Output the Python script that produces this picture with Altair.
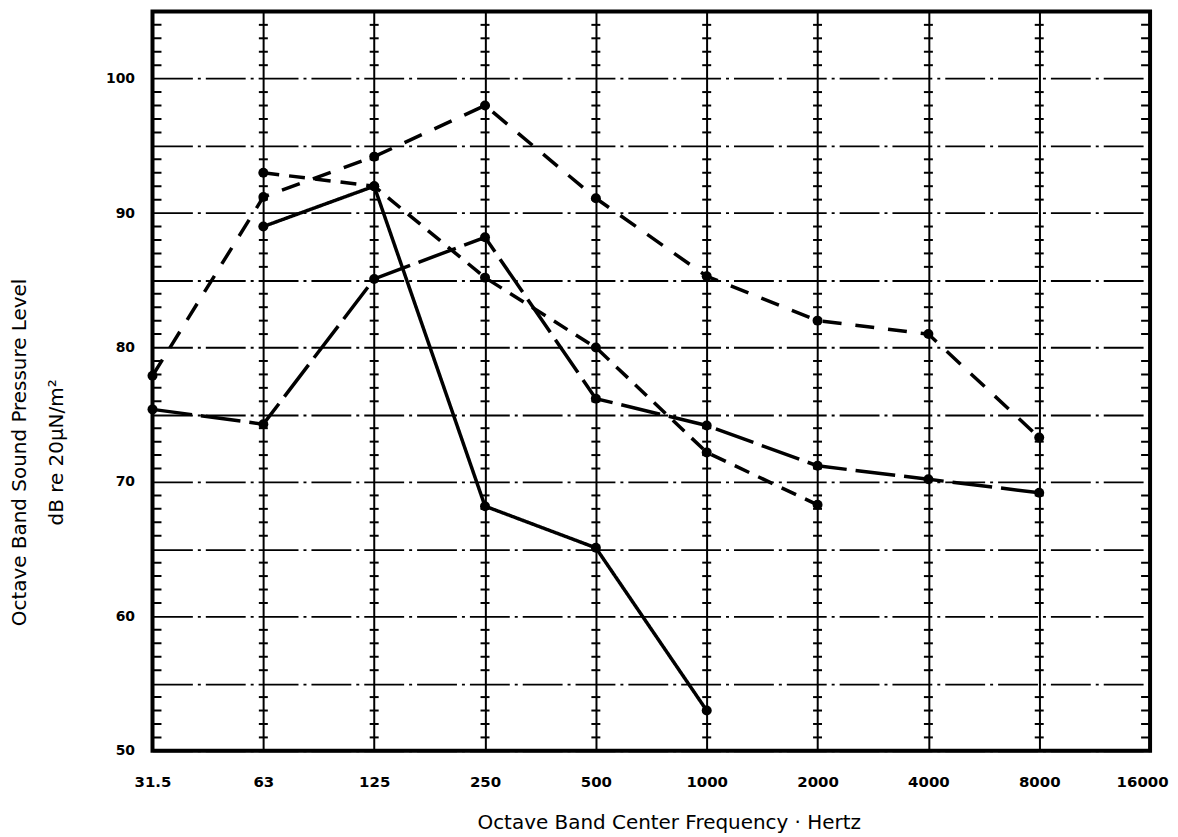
import altair as alt
import pandas as pd

# Octave band centre frequencies (category axis)
FREQ_LABELS = ["31.5", "63", "125", "250", "500", "1000", "2000", "4000", "8000", "16000"]

# Four measured spectra (dB re 20 uN/m^2)
SERIES_NAMES = ["A", "B", "C", "D"]
A_FREQ = ["63", "125", "250", "500", "1000"]
A_DB = [89.0, 92.0, 68.2, 65.1, 53.0]
B_FREQ = ["31.5", "63", "125", "250", "500", "1000", "2000", "4000", "8000"]
B_DB = [75.4, 74.3, 85.1, 88.2, 76.2, 74.2, 71.2, 70.2, 69.2]
C_FREQ = ["63", "125", "250", "500", "1000", "2000"]
C_DB = [93.0, 92.0, 85.2, 80.0, 72.2, 68.3]
D_FREQ = ["31.5", "63", "125", "250", "500", "1000", "2000", "4000", "8000"]
D_DB = [77.9, 91.2, 94.2, 98.0, 91.1, 85.3, 82.0, 81.0, 73.3]

# axis values
Y_GRID_VALUES = [50, 55, 60, 65, 70, 75, 80, 85, 90, 95, 100, 105]
MINOR_DB = [v for v in range(51, 105) if v % 5 != 0]   # graph-paper minor ticks

rows = []
for name, fr, db in zip(SERIES_NAMES, [A_FREQ, B_FREQ, C_FREQ, D_FREQ], [A_DB, B_DB, C_DB, D_DB]):
    for i, (f, v) in enumerate(zip(fr, db)):
        rows.append({"series": name, "freq": f, "db": v, "idx": i})
df = pd.DataFrame(rows)

inner = FREQ_LABELS[1:-1]
edges = [FREQ_LABELS[0], FREQ_LABELS[-1]]
ticks_inner = pd.DataFrame([{"freq": f, "db": d} for f in inner for d in MINOR_DB])
ticks_edge = pd.DataFrame([{"freq": f, "db": d} for f in edges for d in MINOR_DB])

FONT = "DejaVu Sans"

x_scale = alt.Scale(type="point", domain=FREQ_LABELS, padding=0)
y_scale = alt.Scale(domain=[50, 105], nice=False, zero=False)

x_axis = alt.Axis(
    title="Octave Band Center Frequency \u00b7 Hertz",
    labelAngle=0, labelFont=FONT, labelFontWeight="bold", labelFontSize=15,
    labelColor="black", labelPadding=24, ticks=False, tickSize=0, domain=False,
    labelOffset={"condition": {"test": "datum.label == '16000'", "value": -8}, "value": 0},
    grid=True, gridColor="black", gridWidth=2, gridOpacity=1,
    titleFont=FONT, titleFontSize=20, titleFontWeight="normal", titleColor="black",
    titleX=518, titleY=78, titleBaseline="alphabetic", titleAlign="center",
)
y_axis = alt.Axis(
    title=["Octave Band Sound Pressure Level", "dB re 20\u03bcN/m\u00b2"],
    values=Y_GRID_VALUES,
    labelExpr="datum.value % 10 == 0 && datum.value < 105 ? datum.label : ''",
    labelFont=FONT, labelFontWeight="bold", labelFontSize=14, labelColor="black",
    labelPadding=18, ticks=False, tickSize=0, domain=False,
    grid=True, gridColor="black", gridWidth=1.8, gridOpacity=1, gridDash=[40, 5, 3, 5],
    titleFont=FONT, titleFontSize=20, titleFontWeight="normal", titleColor="black",
    titleAngle=270, titleX=-127, titleY=442, titleBaseline="alphabetic",
    titleAlign="center", titleLineHeight=37,
)

X_ENC = alt.X("freq:N", scale=x_scale, axis=x_axis, sort=FREQ_LABELS)
Y_ENC = alt.Y("db:Q", scale=y_scale, axis=y_axis)

base_grid = alt.Chart(ticks_inner).mark_tick(color="black", thickness=2, size=9, opacity=1).encode(
    x=X_ENC, y=Y_ENC,
)

edge_ticks = alt.Chart(ticks_edge).mark_tick(color="black", thickness=2, size=18, opacity=1, clip=True).encode(
    x=X_ENC, y=Y_ENC,
)

lines = alt.Chart(df).mark_line(color="black", strokeWidth=3.5).encode(
    x=X_ENC, y=Y_ENC,
    detail="series:N",
    order=alt.Order("idx:Q"),
    strokeDash=alt.StrokeDash(
        "series:N",
        scale=alt.Scale(domain=SERIES_NAMES, range=[[1, 0], [40, 9], [16, 10], [19, 14]]),
        legend=None,
    ),
)

points = alt.Chart(df).mark_circle(color="black", size=100, opacity=1).encode(
    x=X_ENC, y=Y_ENC,
)

chart = alt.layer(base_grid, edge_ticks, lines, points).properties(
    width=1001,
    height=742,
    padding={"left": 145, "top": 2, "right": 20, "bottom": 82},
    autosize=alt.AutoSizeParams(type="none"),
    background="white",
).configure_view(
    stroke="black", strokeWidth=4
)

chart.save("out.html", embed_options={"renderer": "svg", "actions": False})
